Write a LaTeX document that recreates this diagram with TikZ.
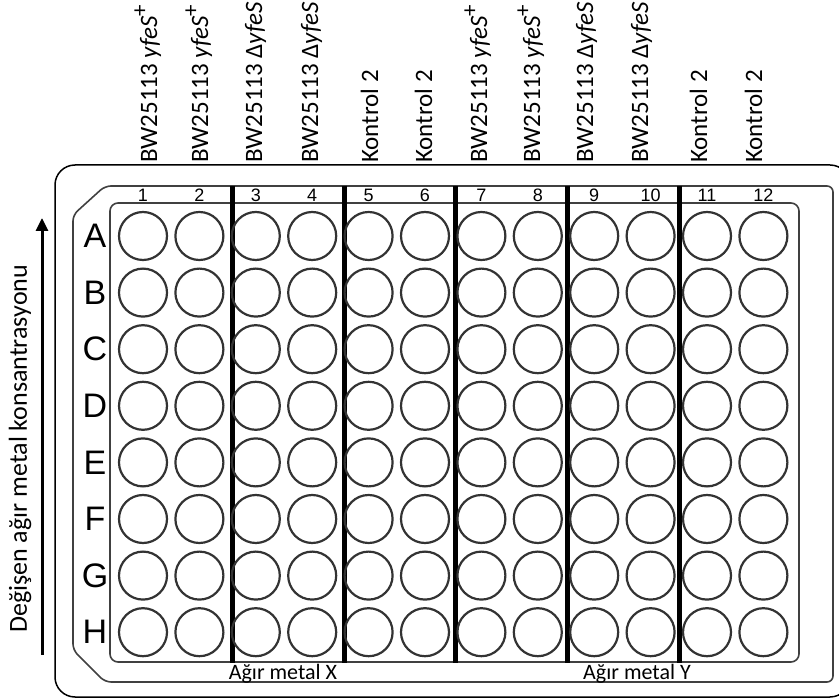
\documentclass[tikz,border=0pt]{standalone}
\usepackage{fontspec}
\setmainfont{Carlito}
\newfontfamily\arialfont{Liberation Sans}
\usetikzlibrary{arrows.meta}
\newcommand{\supplus}{\raisebox{0.4em}{\fontsize{23}{24}\selectfont+}}

\begin{document}
\begin{tikzpicture}[x=1pt,y=-1pt,
  well/.style={circle,draw=black!80,line width=2.2pt,minimum size=48pt,inner sep=0pt},
  rowlab/.style={inner sep=0pt,font=\arialfont\fontsize{34}{40}\selectfont},
  collab/.style={anchor=base,inner sep=0pt,font=\arialfont\fontsize{18}{20}\selectfont},
  strain/.style={rotate=90,anchor=base west,inner sep=0pt,font=\fontsize{25}{30}\selectfont},
  metal/.style={anchor=base,inner sep=0pt,font=\fontsize{22}{26}\selectfont},
  divider/.style={line width=5pt}]
  \useasboundingbox (0,0) rectangle (839,700);
  \draw[line width=1.5pt,rounded corners=20pt] (55,165) rectangle (850,697);
  \draw[black!75,line width=1.6pt,rounded corners=6pt] (73,650) -- (73,215) -- (105,186) -- (833,186) -- (833,682) -- (105,682) -- cycle;
  \draw[black!75,line width=1.6pt,rounded corners=8pt] (110,203) rectangle (799,662);
  \foreach \x in {232,344,455,567,679}
    \draw[divider] (\x,186) -- (\x,663);
  \foreach \r [count=\i from 0] in {A,B,C,D,E,F,G,H} {
    \node[rowlab] (row\r) at ({95},{236+56.6*\i}) {\r};
    \foreach \c in {1,...,12}
      \node[well] (\r\c) at ({143+56.4*(\c-1)},{236+56.6*\i}) {};
  }
  \foreach \c in {1,...,12}
    \node[collab] (num\c) at ({143+56.4*(\c-1)},202) {\c};
  \foreach \x/\lab [count=\c] in {157/{BW25113 \textit{yfeS}\supplus},
      208/{BW25113 \textit{yfeS}\supplus},
      262/{BW25113 Δ\textit{yfeS}},318/{BW25113 Δ\textit{yfeS}},
      378/{Kontrol 2},432/{Kontrol 2},
      487/{BW25113 \textit{yfeS}\supplus},
      540/{BW25113 \textit{yfeS}\supplus},
      593/{BW25113 Δ\textit{yfeS}},648/{BW25113 Δ\textit{yfeS}},
      707/{Kontrol 2},762/{Kontrol 2}}
    \node[strain] (strain\c) at (\x,163) {\lab};
  \node[metal] (metalX) at (283,680) {Ağır metal X};
  \node[metal] (metalY) at (637,680) {Ağır metal Y};
  \node[rotate=90,anchor=base west,inner sep=0pt,font=\fontsize{26}{32}\selectfont] (conc) at (27,633) {Değişen ağır metal konsantrasyonu};
  \coordinate (low) at (42,655);
  \coordinate (high) at (42,218);
  \draw[line width=3pt,-{Triangle[width=12pt,length=13pt]}] (low) -- (high);
\end{tikzpicture}
\end{document}
